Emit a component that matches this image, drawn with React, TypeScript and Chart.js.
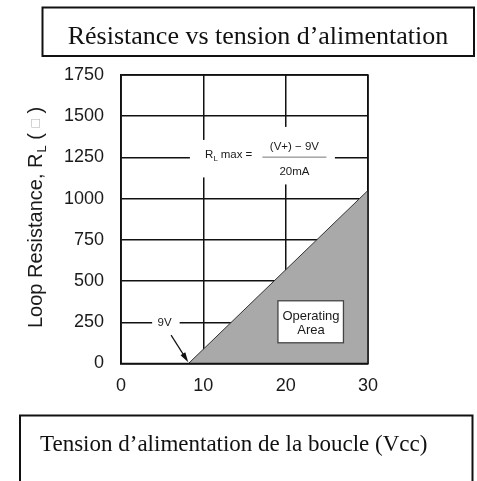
import { useEffect, useRef } from "react";
import { Chart, registerables } from "chart.js";

Chart.register(...registerables);

// ---- data ----
const supplyVoltage = [8.2, 30];
const maxLoopResistance = [0, 1050];
const xRange = [0, 30];
const xStepSize = 10;
const yRange = [0, 1750];
const yStepSize = 250;

// ---- texts ----
const chartTitle = "Résistance vs tension d’alimentation";
const xAxisTitle = "Tension d’alimentation de la boucle (Vcc)";
const yAxisTitle = ["Loop Resistance, R", "L", " ( ", "□", " )"];
const formulaLead = ["R", "L", " max ="];
const formulaNumerator = "(V+) − 9V";
const formulaDenominator = "20mA";
const thresholdLabel = "9V";
const areaLabel = ["Operating", "Area"];

// annotation anchors in data units
const formulaAnchor = [17.6, 1250];
const thresholdAnchor = [5.3, 250];
const arrowTail = [6.08, 172];
const arrowHead = [8.17, 8];
const areaAnchor = [23.07, 253];

const W = 477;
const H = 481;
const SANS = "'Liberation Sans', Arial, sans-serif";
const SERIF = "'Liberation Serif', 'Times New Roman', serif";

const overlayPlugin = {
  id: "overlay",
  beforeDatasetsDraw(chart: any) {
    const { ctx } = chart;
    const xs = chart.scales.x;
    const ys = chart.scales.y;
    ctx.save();
    ctx.fillStyle = "#ffffff";
    const fx = xs.getPixelForValue(formulaAnchor[0]);
    const fy = ys.getPixelForValue(formulaAnchor[1]);
    ctx.fillRect(fx - 76, fy - 17.5, 65, 37.5);
    ctx.fillRect(fx - 11.5, fy - 30.5, 80.5, 57.5);
    const tx = xs.getPixelForValue(thresholdAnchor[0]);
    const ty = ys.getPixelForValue(thresholdAnchor[1]);
    ctx.fillRect(tx - 12.5, ty - 5, 27.5, 10);
    ctx.restore();
  },
  afterDatasetsDraw(chart: any) {
    const { ctx, chartArea: a } = chart;
    const xs = chart.scales.x;
    const ys = chart.scales.y;
    ctx.save();
    // frame
    ctx.strokeStyle = "#111";
    ctx.lineWidth = 1.5;
    ctx.strokeRect(a.left, a.top, a.right - a.left, a.bottom - a.top);

    ctx.fillStyle = "#1a1a1a";
    ctx.textBaseline = "alphabetic";
    // formula
    const fx = xs.getPixelForValue(formulaAnchor[0]);
    const fy = ys.getPixelForValue(formulaAnchor[1]);
    ctx.textAlign = "left";
    ctx.font = `11.5px ${SANS}`;
    let px = fx - 61;
    ctx.fillText(formulaLead[0], px, fy + 0.8);
    px += ctx.measureText(formulaLead[0]).width + 0.3;
    ctx.font = `8px ${SANS}`;
    ctx.fillText(formulaLead[1], px, fy + 3.2);
    px += ctx.measureText(formulaLead[1]).width - 0.5;
    ctx.font = `11.5px ${SANS}`;
    ctx.fillText(formulaLead[2], px, fy + 0.8);
    ctx.strokeStyle = "#777";
    ctx.lineWidth = 1;
    ctx.beginPath();
    ctx.moveTo(fx - 3.5, fy - 0.3);
    ctx.lineTo(fx + 60.5, fy - 0.3);
    ctx.stroke();
    ctx.textAlign = "center";
    ctx.fillText(formulaNumerator, fx + 28.5, fy - 7.5);
    ctx.fillText(formulaDenominator, fx + 28.5, fy + 17.3);

    // threshold label + arrow
    const tx = xs.getPixelForValue(thresholdAnchor[0]);
    const ty = ys.getPixelForValue(thresholdAnchor[1]);
    ctx.font = `11.5px ${SANS}`;
    ctx.textBaseline = "middle";
    ctx.fillText(thresholdLabel, tx, ty + 0.5);
    const ax0 = xs.getPixelForValue(arrowTail[0]);
    const ay0 = ys.getPixelForValue(arrowTail[1]);
    const ax1 = xs.getPixelForValue(arrowHead[0]);
    const ay1 = ys.getPixelForValue(arrowHead[1]);
    const ang = Math.atan2(ay1 - ay0, ax1 - ax0);
    ctx.strokeStyle = "#111";
    ctx.lineWidth = 1.2;
    ctx.beginPath();
    ctx.moveTo(ax0, ay0);
    ctx.lineTo(ax1 - 6 * Math.cos(ang), ay1 - 6 * Math.sin(ang));
    ctx.stroke();
    ctx.fillStyle = "#111";
    ctx.beginPath();
    ctx.moveTo(ax1, ay1);
    ctx.lineTo(ax1 - 10 * Math.cos(ang) + 2.8 * Math.sin(ang), ay1 - 10 * Math.sin(ang) - 2.8 * Math.cos(ang));
    ctx.lineTo(ax1 - 10 * Math.cos(ang) - 2.8 * Math.sin(ang), ay1 - 10 * Math.sin(ang) + 2.8 * Math.cos(ang));
    ctx.closePath();
    ctx.fill();

    // operating area box
    const bx = xs.getPixelForValue(areaAnchor[0]);
    const by = ys.getPixelForValue(areaAnchor[1]);
    ctx.fillStyle = "#ffffff";
    ctx.fillRect(bx - 33, by - 21, 65.5, 42);
    ctx.strokeStyle = "#444";
    ctx.lineWidth = 1.3;
    ctx.strokeRect(bx - 33, by - 21, 65.5, 42);
    ctx.fillStyle = "#1a1a1a";
    ctx.font = `13px ${SANS}`;
    ctx.textBaseline = "middle";
    ctx.fillText(areaLabel[0], bx, by - 5);
    ctx.fillText(areaLabel[1], bx, by + 9);
    ctx.restore();
  },
  afterDraw(chart: any) {
    const { ctx } = chart;
    ctx.save();
    // title box
    ctx.strokeStyle = "#111";
    ctx.lineWidth = 2;
    ctx.strokeRect(42.5, 7.5, 431.5, 48.5);
    ctx.fillStyle = "#111";
    ctx.font = `26px ${SERIF}`;
    ctx.textAlign = "center";
    ctx.textBaseline = "alphabetic";
    ctx.fillText(chartTitle, 258, 43.5);
    // bottom box
    ctx.beginPath();
    ctx.moveTo(20, H + 5);
    ctx.lineTo(20, 415.5);
    ctx.lineTo(472.5, 415.5);
    ctx.lineTo(472.5, H + 5);
    ctx.stroke();
    ctx.font = `23px ${SERIF}`;
    ctx.textAlign = "left";
    ctx.fillText(xAxisTitle, 40, 451);

    // y axis title
    ctx.translate(41.5, 328);
    ctx.rotate(-Math.PI / 2);
    ctx.fillStyle = "#1a1a1a";
    ctx.textAlign = "left";
    ctx.font = `20px ${SANS}`;
    let p = 0;
    ctx.fillText(yAxisTitle[0], p, 0);
    p += ctx.measureText(yAxisTitle[0]).width + 1;
    ctx.font = `13px ${SANS}`;
    ctx.fillText(yAxisTitle[1], p, 4);
    p += ctx.measureText(yAxisTitle[1]).width;
    ctx.font = `20px ${SANS}`;
    ctx.fillText(yAxisTitle[2], p, 0);
    p += ctx.measureText(yAxisTitle[2]).width;
    ctx.fillStyle = "#b0b0b0";
    ctx.font = `14px ${SANS}`;
    ctx.fillText(yAxisTitle[3], p, -2);
    p += ctx.measureText(yAxisTitle[3]).width;
    ctx.fillStyle = "#1a1a1a";
    ctx.font = `20px ${SANS}`;
    ctx.fillText(yAxisTitle[4], p, 0);
    ctx.restore();
  },
};

export default function App() {
  const ref = useRef<HTMLCanvasElement | null>(null);
  useEffect(() => {
    if (!ref.current) return;
    const chart = new Chart(ref.current, {
      type: "line",
      data: {
        datasets: [
          {
            data: supplyVoltage.map((v, i) => ({ x: v, y: maxLoopResistance[i] })),
            borderColor: "#333",
            borderWidth: 1,
            backgroundColor: "#a9a9a9",
            fill: "origin",
            pointRadius: 0,
            tension: 0,
          },
        ],
      },
      options: {
        responsive: false,
        maintainAspectRatio: false,
        devicePixelRatio: 1,
        animation: false,
        events: [],
        layout: { padding: { left: 0, top: 75, right: 109, bottom: 0 } },
        plugins: { legend: { display: false }, tooltip: { enabled: false }, title: { display: false } },
        scales: {
          x: {
            type: "linear",
            min: xRange[0],
            max: xRange[1],
            ticks: {
              stepSize: xStepSize,
              padding: 12,
              color: "#1a1a1a",
              font: { family: SANS, size: 18 },
              callback: (v: any) => String(v),
            },
            grid: { color: "#111", lineWidth: 1.5, drawTicks: false },
            border: { color: "#111", width: 1.5 },
            afterFit: (s: any) => {
              s.height = 117.5;
            },
          },
          y: {
            type: "linear",
            min: yRange[0],
            max: yRange[1],
            ticks: {
              stepSize: yStepSize,
              padding: 17,
              color: "#1a1a1a",
              font: { family: SANS, size: 18 },
              callback: (v: any) => String(v),
            },
            grid: { color: "#111", lineWidth: 1.5, drawTicks: false },
            border: { color: "#111", width: 1.5 },
            afterFit: (s: any) => {
              s.width = 121;
            },
          },
        },
      },
      plugins: [overlayPlugin],
    } as any);
    return () => chart.destroy();
  }, []);
  return (
    <div style={{ position: "fixed", left: 0, top: 0, width: W, height: H, overflow: "hidden", background: "#fff" }}>
      <canvas ref={ref} width={W} height={H} style={{ display: "block", width: W, height: H }} />
    </div>
  );
}
